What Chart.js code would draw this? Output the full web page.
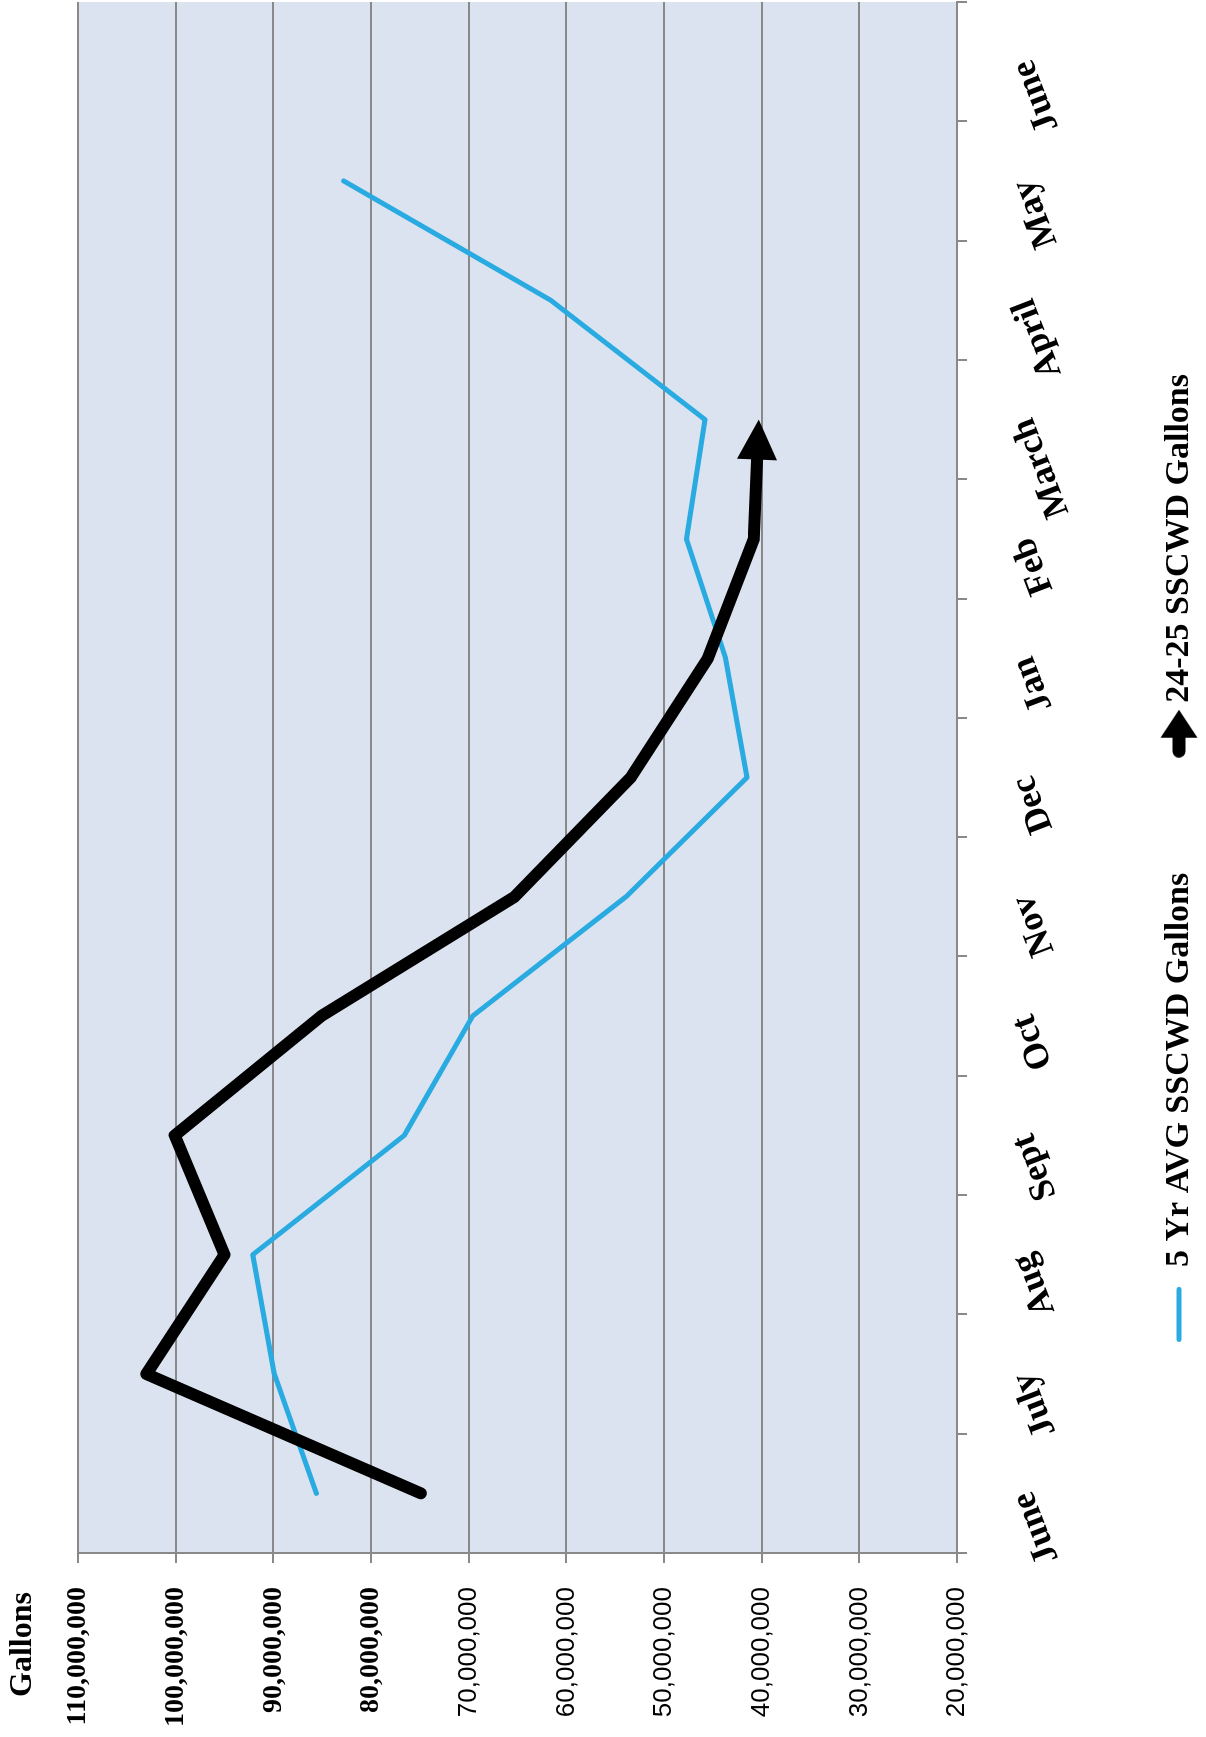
<!DOCTYPE html>
<html lang="en">
<head>
<meta charset="UTF-8">
<title>SSCWD Gallons</title>
<script src="https://cdn.jsdelivr.net/npm/chart.js"></script>
<style>
  html, body { margin: 0; padding: 0; background: #fff; overflow: hidden; }
  /* the chart is laid out landscape and turned a quarter left */
  #turn { position: absolute; left: 0; top: 0; width: 1737px; height: 1206px;
          transform-origin: 0 0; transform: translate(0, 1737px) rotate(-90deg); }
</style>
</head>
<body>
<div id="turn"><canvas id="usage" width="1737" height="1206"></canvas></div>
<script>
// Data
const months = ['June', 'July', 'Aug', 'Sept', 'Oct', 'Nov', 'Dec', 'Jan', 'Feb', 'March', 'April', 'May', 'June'];
const avgGallons = [85600000, 89900000, 92100000, 76600000, 69600000, 53900000, 41500000, 43700000, 47700000, 45800000, 61600000, 82800000, null];
const currentGallons = [74900000, 103000000, 95000000, 100100000, 85100000, 65300000, 53400000, 45500000, 40800000, 40300000, null, null, null];
const gallonTicks = [20000000, 30000000, 40000000, 50000000, 60000000, 70000000, 80000000, 90000000, 100000000, 110000000];

const serif = 'Liberation Serif';
const gridGray = '#898989';
const avgBlue = '#29ABE2';
const serifTickFont = { family: serif, size: 28, weight: 'bold' };
const sansTickFont = { family: 'Liberation Sans', size: 26, weight: 'normal' };

// legend markers
const lineIcon = document.createElement('canvas');
lineIcon.width = 71;
lineIcon.height = 10;
const l = lineIcon.getContext('2d');
l.strokeStyle = avgBlue;
l.lineWidth = 5;
l.lineCap = 'round';
l.beginPath(); l.moveTo(15.5, 5); l.lineTo(65.5, 5); l.stroke();

const arrowIcon = document.createElement('canvas');
arrowIcon.width = 91;
arrowIcon.height = 40;
const a = arrowIcon.getContext('2d');
a.strokeStyle = '#000';
a.fillStyle = '#000';
a.lineWidth = 13;
a.lineCap = 'round';
a.beginPath(); a.moveTo(49.5, 20); a.lineTo(70, 20); a.stroke();
a.beginPath(); a.moveTo(63, 1.5); a.lineTo(91, 20); a.lineTo(63, 38.5); a.closePath(); a.fill();

const lastIdx = currentGallons.reduce((k, v, i) => (v !== null ? i : k), 0);

// light blue plot area
const plotBg = {
    id: 'plotBg',
    beforeDraw(chart) {
        const {ctx, chartArea: c} = chart;
        ctx.save();
        ctx.fillStyle = '#DCE3F0';
        ctx.fillRect(c.left, c.top, c.right - c.left, c.bottom - c.top);
        ctx.restore();
    }
};

// arrow head at the end of the 24-25 line
const lineArrow = {
    id: 'lineArrow',
    beforeDatasetDraw(chart, args) {
        if (args.index !== 1) return;
        const ctx = chart.ctx;
        const tip = chart.getDatasetMeta(1).data[lastIdx];
        ctx.save();
        ctx.beginPath();
        ctx.rect(0, 0, chart.width, chart.height);
        ctx.arc(tip.x, tip.y, 34, 0, Math.PI * 2);
        ctx.clip('evenodd');
    },
    afterDatasetDraw(chart, args) {
        if (args.index !== 1) return;
        const ctx = chart.ctx;
        ctx.restore();
        const pts = chart.getDatasetMeta(1).data;
        const tip = pts[lastIdx], prev = pts[lastIdx - 1];
        const dx = tip.x - prev.x, dy = tip.y - prev.y;
        const len = Math.hypot(dx, dy);
        const ux = dx / len, uy = dy / len;
        const bx = tip.x - ux * 40, by = tip.y - uy * 40;
        ctx.save();
        ctx.fillStyle = '#000';
        ctx.beginPath();
        ctx.moveTo(tip.x, tip.y);
        ctx.lineTo(bx - uy * 20, by + ux * 20);
        ctx.lineTo(bx + uy * 20, by - ux * 20);
        ctx.closePath();
        ctx.fill();
        ctx.restore();
    }
};

// "Gallons" above the value labels
const axisName = {
    id: 'axisName',
    afterDraw(chart) {
        const {ctx, chartArea: c} = chart;
        ctx.save();
        ctx.fillStyle = '#000';
        ctx.font = 'bold 32px "' + serif + '"';
        ctx.textBaseline = 'middle';
        ctx.textAlign = 'left';
        ctx.fillText('Gallons', c.left - 144, c.top - 55);
        ctx.restore();
    }
};

new Chart(document.getElementById('usage'), {
    type: 'line',
    data: {
        labels: months,
        datasets: [
            {
                label: '5 Yr AVG SSCWD Gallons',
                data: avgGallons,
                borderColor: avgBlue,
                backgroundColor: avgBlue,
                borderWidth: 5,
                borderCapStyle: 'round',
                borderJoinStyle: 'round',
                pointRadius: 0,
                tension: 0,
                order: 1
            },
            {
                label: '24-25 SSCWD Gallons',
                data: currentGallons,
                borderColor: '#000',
                backgroundColor: '#000',
                borderWidth: 12,
                borderCapStyle: 'round',
                borderJoinStyle: 'round',
                pointRadius: 0,
                tension: 0,
                order: 0
            }
        ]
    },
    options: {
        responsive: false,
        animation: false,
        devicePixelRatio: 1,
        layout: { padding: { left: 10, right: 2, top: 78, bottom: 0 } },
        plugins: {
            tooltip: { enabled: false },
            legend: {
                position: 'bottom',
                labels: {
                    usePointStyle: true,
                    pointStyleWidth: 71,
                    padding: 82,
                    color: '#000',
                    font: { family: serif, size: 34, weight: 'bold' },
                    generateLabels(chart) {
                        const items = Chart.defaults.plugins.legend.labels.generateLabels(chart);
                        items.sort((p, q) => p.datasetIndex - q.datasetIndex);
                        items.forEach(it => {
                            it.pointStyle = it.datasetIndex === 1 ? arrowIcon : lineIcon;
                            it.fontColor = '#000';
                        });
                        return items;
                    }
                }
            }
        },
        scales: {
            x: {
                offset: true,
                grid: { offset: true, drawOnChartArea: false, color: gridGray, lineWidth: 2, tickLength: 10 },
                border: { color: gridGray, width: 2 },
                ticks: {
                    autoSkip: false,
                    minRotation: 21,
                    maxRotation: 21,
                    padding: 36,
                    color: '#000',
                    font: { family: serif, size: 36, weight: 'bold' }
                },
                afterFit(s) { s.height = 123; }
            },
            y: {
                min: gallonTicks[0],
                max: gallonTicks[gallonTicks.length - 1],
                afterBuildTicks(s) { s.ticks = gallonTicks.map(v => ({ value: v })); },
                grid: { color: gridGray, lineWidth: 2, tickLength: 10 },
                border: { color: gridGray, width: 2 },
                ticks: {
                    padding: 24,
                    crossAlign: 'near',
                    color: '#000',
                    font: c => (c.index >= 6 ? serifTickFont : sansTickFont),
                    callback: v => Number(v).toLocaleString('en-US')
                },
                afterFit(s) { s.width = 174; }
            }
        }
    },
    plugins: [plotBg, lineArrow, axisName]
});
</script>
</body>
</html>
